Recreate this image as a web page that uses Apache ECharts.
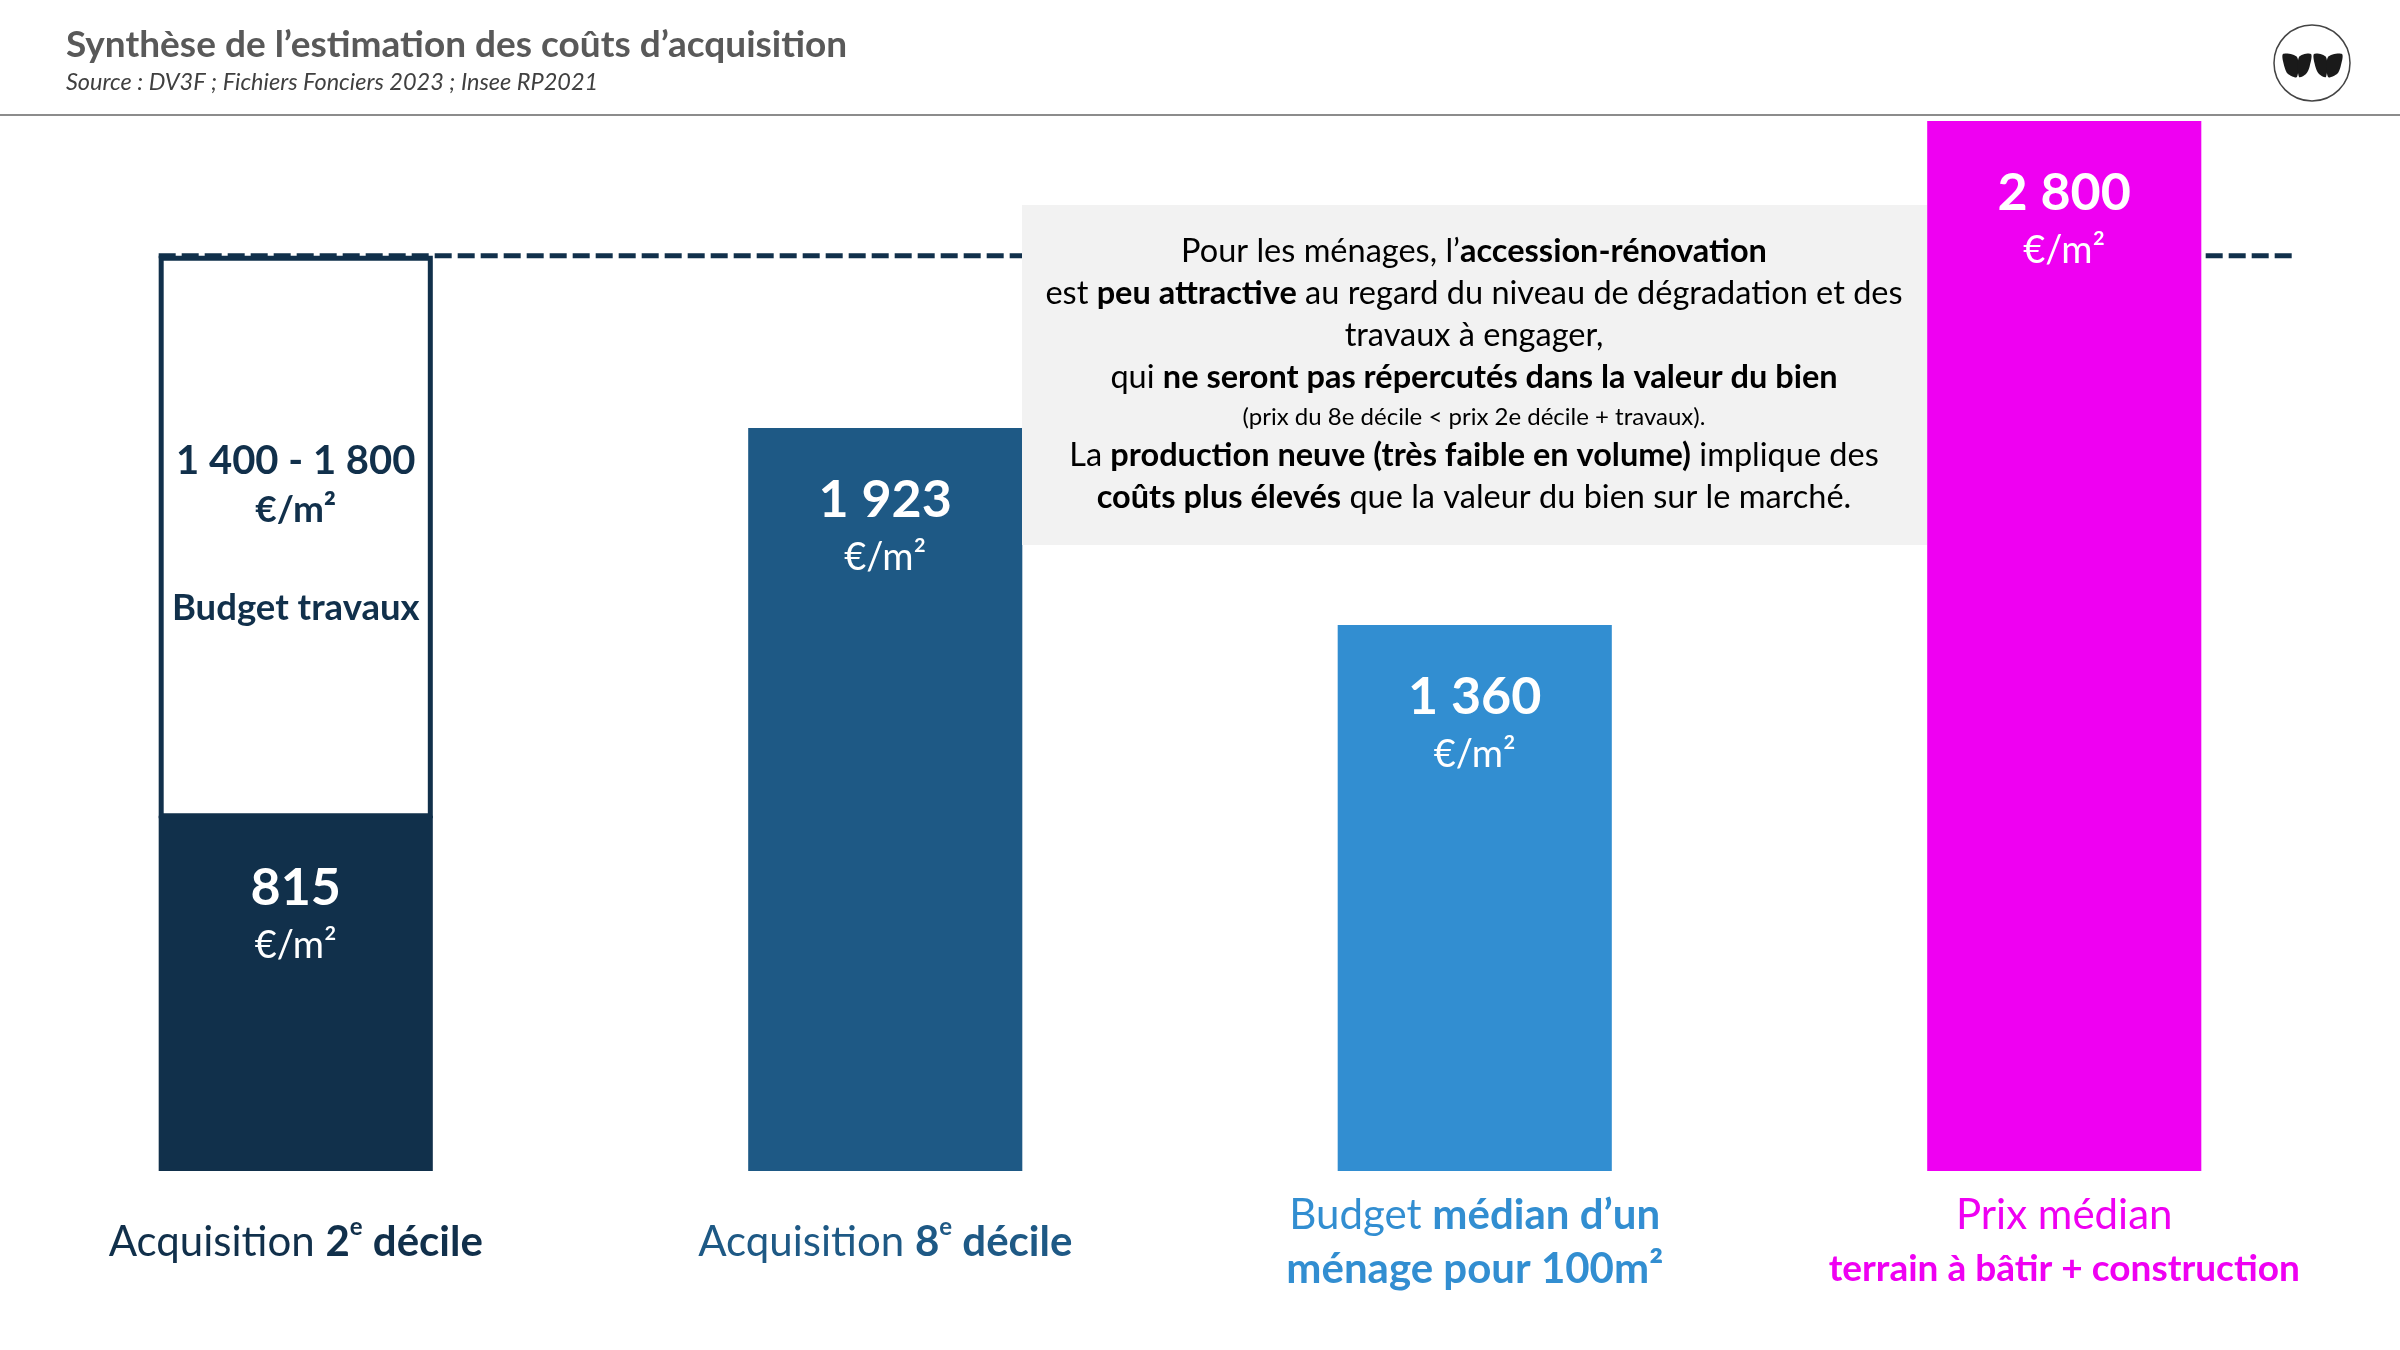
<!DOCTYPE html>
<html>
<head>
<meta charset="UTF-8">
<script src="https://cdn.jsdelivr.net/npm/echarts@6/dist/echarts.min.js"></script>
<style>
	html, body { margin: 0; padding: 0; background: #fff; }
	#main { width: 2400px; height: 1350px; }
</style>
<title>Synthèse coûts d'acquisition</title>
</head>
<body>
<div id="main"></div>
<script type="text/javascript">
	// donnees (€/m²)
	var categories = ['Acquisition 2e décile', 'Acquisition 8e décile', 'Budget médian d’un ménage pour 100m²', 'Prix médian terrain à bâtir + construction'];
	var prix = [815, 1923, 1360, 2800];
	var travaux = [1400, 1800];   // fourchette budget travaux, posee sur la barre 2e decile

	var couleurs = ['#11304b', '#1e5985', '#328ed1', '#ef00f2'];
	var police = 'Lato, "Open Sans", sans-serif';

	function fmt(v) {
		return String(v).replace(/\B(?=(\d{3})+(?!\d))/g, ' ');
	}

	var myChart = echarts.init(document.getElementById('main'));

	function renderBarre(params, api) {
		var i = api.value(0);
		var v = api.value(1);
		var sys = params.coordSys;
		var bande = api.size([1, 0])[0];
		var larg = bande * 0.465;
		var haut = api.coord([i, v]);
		var x = haut[0] - larg / 2;
		var base = sys.y + sys.height;
		var enfants = [{
			type: 'rect',
			z2: 10,
			shape: { x: x, y: haut[1], width: larg, height: base - haut[1] },
			style: { fill: couleurs[i] }
		}, {
			type: 'text', z2: 12,
			style: { text: fmt(v), x: haut[0], y: haut[1] + 72, align: 'center', verticalAlign: 'middle',
				fill: '#fff', font: 'bold 52px ' + police }
		}, {
			type: 'text', z2: 12,
			style: { text: '€/m²', x: haut[0], y: haut[1] + 130, align: 'center', verticalAlign: 'middle',
				fill: '#fff', font: '38px ' + police }
		}];
		if (i === 0) {
			// boite "budget travaux" : milieu de la fourchette
			var milieu = (travaux[0] + travaux[1]) / 2;
			var boite = api.coord([i, v + milieu]);
			var fin = api.coord([3, 0])[0] + bande * 0.387;
			enfants.push({
				type: 'line', z2: 1,
				shape: { x1: x, y1: boite[1], x2: fin, y2: boite[1] },
				style: { stroke: '#11304b', lineWidth: 5, lineDash: [17, 6] }
			});
			enfants.push({
				type: 'rect', z2: 11,
				shape: { x: x + 2.5, y: boite[1] + 2.5, width: larg - 5, height: haut[1] - boite[1] - 2.5 },
				style: { fill: '#fff', stroke: '#11304b', lineWidth: 5 }
			});
			enfants.push({
				type: 'text', z2: 12,
				style: { text: fmt(travaux[0]) + ' - ' + fmt(travaux[1]), x: haut[0], y: haut[1] - 355,
					align: 'center', verticalAlign: 'middle', fill: '#11304b', font: 'bold 40px ' + police }
			});
			enfants.push({
				type: 'text', z2: 12,
				style: { text: '€/m²', x: haut[0], y: haut[1] - 306, align: 'center', verticalAlign: 'middle',
					fill: '#11304b', font: 'bold 37px ' + police }
			});
			enfants.push({
				type: 'text', z2: 12,
				style: { text: 'Budget travaux', x: haut[0], y: haut[1] - 208, align: 'center', verticalAlign: 'middle',
					fill: '#11304b', font: 'bold 36.5px ' + police }
			});
		}
		return { type: 'group', children: enfants };
	}

	function etiquette(value, idx) {
		if (idx === 0) return '{n0|Acquisition }{b0|2}{s0|e}{b0| décile}';
		if (idx === 1) return '{n1|Acquisition }{b1|8}{s1|e}{b1| décile}';
		if (idx === 2) return '{n2|Budget }{b2|médian d’un}\n{b2|ménage pour 100m²}';
		return '{n3|Prix médian}\n{c3|terrain à bâtir + construction}';
	}

	var riche = {};
	for (var k = 0; k < 4; k++) {
		riche['n' + k] = { color: couleurs[k], fontFamily: police, fontSize: 42, lineHeight: 54 };
		riche['b' + k] = { color: couleurs[k], fontFamily: police, fontSize: 42, fontWeight: 'bold', lineHeight: 54 };
		riche['s' + k] = { color: couleurs[k], fontFamily: police, fontSize: 24, fontWeight: 'bold', verticalAlign: 'top', lineHeight: 42 };
	}
	riche.c3 = { color: couleurs[3], fontFamily: police, fontSize: 37, fontWeight: 'bold', lineHeight: 54 };

	var texteEncadre = [
		'{r|Pour les ménages, l’}{b|accession-rénovation}',
		'{r|est }{b|peu attractive}{r| au regard du niveau de dégradation et des}',
		'{r|travaux à engager,}',
		'{r|qui }{b|ne seront pas répercutés dans la valeur du bien}',
		'{p|(prix du 8e décile < prix 2e décile + travaux).}',
		'{r|La }{b|production neuve (très faible en volume)}{r| implique des}',
		'{b|coûts plus élevés}{r| que la valeur du bien sur le marché.}'
	].join('\n');

	// petales du logo
	function petale(x0, x1, gauche) {
		var pts = [];
		if (gauche) {
			pts = [[x0, 54], [x1, 57], [x1, 77], [x0 + 5, 74], [x0 + 1.5, 67]];
		} else {
			pts = [[x1, 54], [x0, 57], [x0, 77], [x1 - 5, 74], [x1 - 1.5, 67]];
		}
		return { type: 'polygon', z: 3, shape: { points: pts, smooth: 0.3 }, style: { fill: '#1a1a1a' } };
	}

	var option = {
		backgroundColor: '#fff',
		animation: false,
		grid: { left: 1, right: 41, top: 51, bottom: 179 },
		xAxis: {
			type: 'category',
			data: categories,
			axisLine: { show: false },
			axisTick: { show: false },
			axisLabel: {
				interval: 0,
				margin: 71,
				verticalAlign: 'middle',
				formatter: etiquette,
				rich: riche
			}
		},
		yAxis: { type: 'value', min: -200, max: 3000, show: false, splitLine: { show: false } },
		series: [{
			type: 'custom',
			renderItem: renderBarre,
			encode: { x: 0, y: 1 },
			data: prix.map(function (v, i) { return [i, v]; })
		}],
		graphic: [
			{ type: 'text', left: 66, top: 27, style: { text: 'Synthèse de l’estimation des coûts d’acquisition',
				fill: '#595959', font: 'bold 37px ' + police } },
			{ type: 'text', left: 66, top: 71, style: { text: 'Source : DV3F ; Fichiers Fonciers 2023 ; Insee RP2021',
				fill: '#404040', font: 'italic 23.5px ' + police } },
			{ type: 'line', shape: { x1: 0, y1: 115, x2: 2400, y2: 115 }, style: { stroke: '#8c8c8c', lineWidth: 2 } },
			{ type: 'circle', z: 2, shape: { cx: 2312, cy: 63, r: 38 }, style: { fill: '#fff', stroke: '#444', lineWidth: 1.5 } },
			petale(2283, 2297, true),
			petale(2299, 2311, false),
			petale(2314, 2326, true),
			petale(2328, 2342, false),
			{ type: 'rect', z: 5, shape: { x: 1022, y: 205, width: 905, height: 340 }, style: { fill: '#f2f2f2' } },
			{ type: 'text', z: 6, x: 1474, y: 375, style: {
				text: texteEncadre, align: 'center', verticalAlign: 'middle',
				rich: {
					r: { fontFamily: police, fontSize: 32.5, color: '#111', lineHeight: 42 },
					b: { fontFamily: police, fontSize: 32.5, fontWeight: 'bold', color: '#111', lineHeight: 42 },
					p: { fontFamily: police, fontSize: 24, color: '#111', lineHeight: 36 }
				}
			} }
		]
	};
	myChart.setOption(option);
</script>
</body>
</html>
